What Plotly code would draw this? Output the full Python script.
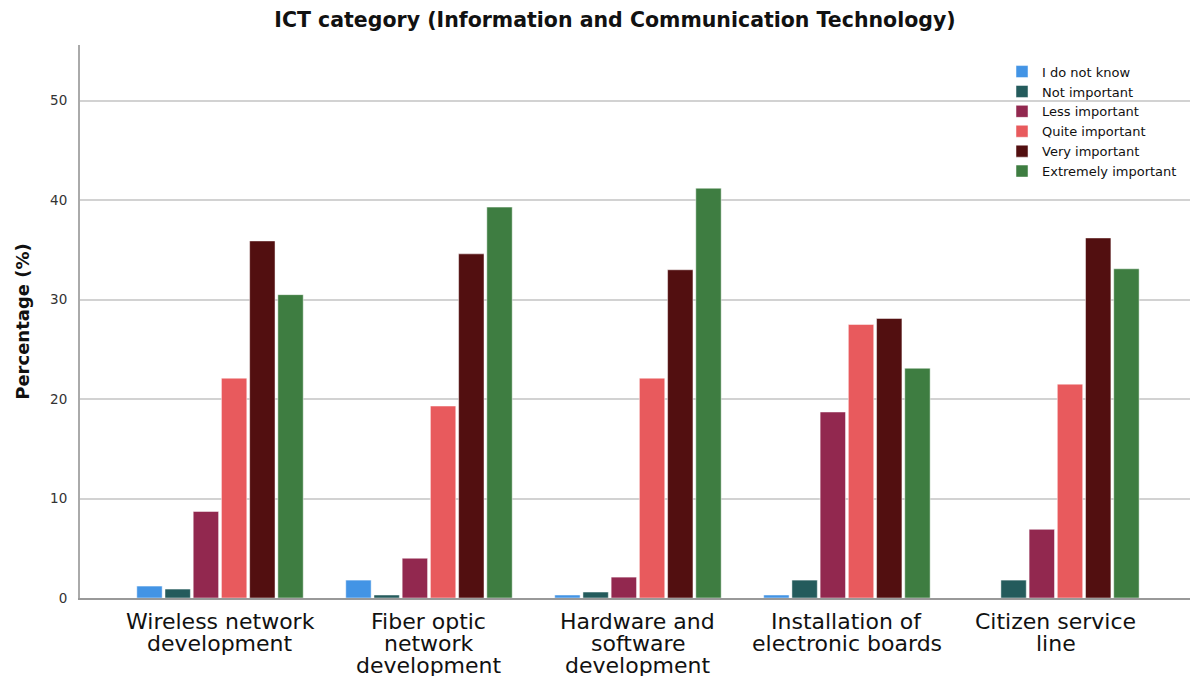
import plotly.graph_objects as go

categories = [
    "Wireless network<br>development",
    "Fiber optic<br>network<br>development",
    "Hardware and<br>software<br>development",
    "Installation of<br>electronic boards",
    "Citizen service<br>line",
]
series_names = ["I do not know", "Not important", "Less important",
                "Quite important", "Very important", "Extremely important"]
dont_know = [1.2, 1.8, 0.3, 0.3, 0.0]
not_important = [0.9, 0.3, 0.6, 1.8, 1.8]
less_important = [8.7, 4.0, 2.1, 18.7, 6.9]
quite_important = [22.1, 19.3, 22.1, 27.5, 21.5]
very_important = [35.9, 34.6, 33.0, 28.1, 36.2]
extremely_important = [30.5, 39.3, 41.2, 23.1, 33.1]
colors = ["#4394E5", "#245B5C", "#92284F", "#E85A5D", "#520F10", "#3E7D41"]
y_ticks = [0, 10, 20, 30, 40, 50]

values = [dont_know, not_important, less_important, quite_important,
          very_important, extremely_important]

FONT = "DejaVu Sans"
fig = go.Figure()
for name, vals, col in zip(series_names, values, colors):
    fig.add_trace(go.Bar(
        x=list(range(len(categories))), y=vals, name=name,
        marker=dict(color=col, line=dict(color="rgba(255,255,255,0.6)", width=0.8)),
    ))

# category labels: one annotation per text line (tight line spacing)
annotations = []
for i, lab in enumerate(categories):
    for k, line in enumerate(lab.split("<br>")):
        annotations.append(dict(
            x=i, xref="x", y=0, yref="paper", text=line, showarrow=False,
            xanchor="center", yanchor="middle", yshift=-(23 + 22 * k),
            font=dict(family=FONT, size=22, color="#111"),
        ))

fig.update_layout(
    width=1198, height=676,
    margin=dict(l=72, r=8, t=37, b=85.5, autoexpand=False),
    paper_bgcolor="white", plot_bgcolor="white",
    barmode="group", bargap=0.19, bargroupgap=0.1,
    font=dict(family=FONT, color="#222"),
    title=dict(text="<b>ICT category (Information and Communication Technology)</b>",
               x=607 / 1198, xanchor="center", xref="container", y=1 - 12 / 676,
               yanchor="middle", yref="container",
               font=dict(family=FONT, size=20.5, color="#111")),
    legend=dict(x=0.8247, y=0.979, xanchor="left", yanchor="top",
                bgcolor="rgba(0,0,0,0)", font=dict(family=FONT, size=13, color="#111"),
                tracegroupgap=0, itemwidth=30, traceorder="normal"),
    annotations=annotations,
    xaxis=dict(
        range=[-0.67, 4.68], tickmode="array",
        tickvals=list(range(len(categories))), ticktext=[""] * len(categories),
        showgrid=False, automargin=False,
        showline=True, linecolor="#999", linewidth=2, ticks="", zeroline=False,
    ),
    yaxis=dict(
        range=[0, 55.6], tickmode="array", tickvals=y_ticks, automargin=False,
        tickfont=dict(family=FONT, size=13.5, color="#333"),
        showgrid=True, gridcolor="#d2d2d2", gridwidth=1.5,
        showline=True, linecolor="#aaa", linewidth=2,
        ticks="outside", ticklen=8, tickcolor="rgba(0,0,0,0)", zeroline=False,
        title=dict(text="<b>Percentage (%)</b>", font=dict(family=FONT, size=18, color="#111"),
                   standoff=16),
    ),
)
fig.write_html("out.html")
